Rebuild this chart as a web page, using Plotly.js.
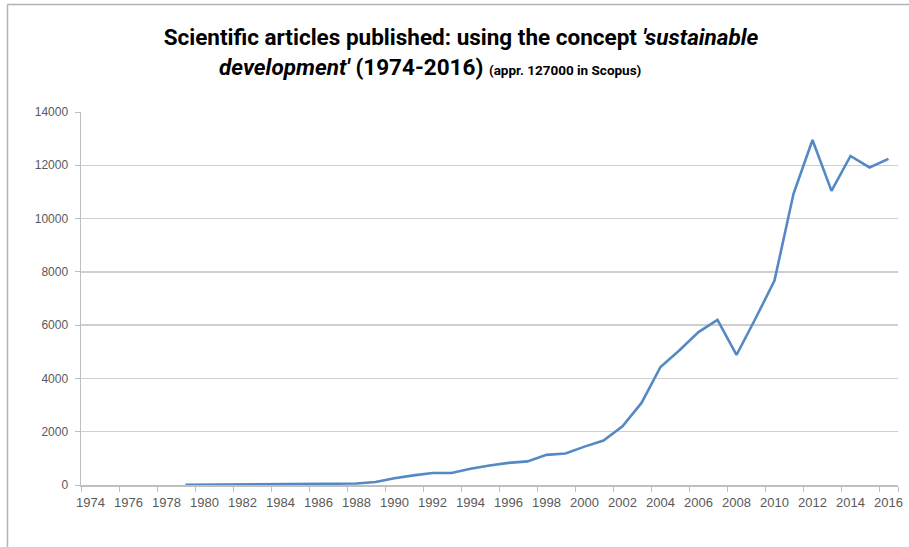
<!DOCTYPE html>
<html>
<head>
<meta charset="utf-8">
<script src="https://cdn.plot.ly/plotly-3.0.1.min.js"></script>
<style>
  html, body { margin: 0; padding: 0; background: #ffffff; }
  #chart { width: 909px; height: 547px; }
</style>
</head>
<body>
<div id="chart"></div>
<script>
// Years on the category axis
const years = [
  1974, 1975, 1976, 1977, 1978, 1979, 1980, 1981, 1982, 1983,
  1984, 1985, 1986, 1987, 1988, 1989, 1990, 1991, 1992, 1993,
  1994, 1995, 1996, 1997, 1998, 1999, 2000, 2001, 2002, 2003,
  2004, 2005, 2006, 2007, 2008, 2009, 2010, 2011, 2012, 2013,
  2014, 2015, 2016
];

// Articles per year (no records before 1979)
const articles = [
  null, null, null, null, null, 5, 8, 10, 12, 15,
  18, 25, 30, 35, 55, 110, 250, 360, 450, 450,
  610, 730, 830, 885, 1130, 1180, 1440, 1670, 2200, 3080,
  4430, 5060, 5740, 6200, 4880, 6250, 7670, 10930, 12950, 11040,
  12350, 11920, 12240
];

// Y axis ticks
const yTicks = [0, 2000, 4000, 6000, 8000, 10000, 12000, 14000];

const cats = years.map(String);
const labelYears = cats.filter((_, i) => i % 2 === 0);

const trace = {
  type: 'scatter',
  mode: 'lines',
  x: cats,
  y: articles,
  line: { color: '#5589c4', width: 2.6 },
  connectgaps: false,
  hoverinfo: 'x+y'
};

const tickFont = { family: 'Liberation Sans, Arial, sans-serif', size: 12, color: '#595959' };
const xTickFont = { family: 'Liberation Sans, Arial, sans-serif', size: 13, color: '#595959' };
const titleFont = { family: 'Roboto, sans-serif', size: 22.5, color: '#000000', weight: 'bold' };

const layout = {
  width: 909,
  height: 547,
  margin: { l: 81, r: 11, t: 112, b: 62 },
  paper_bgcolor: '#ffffff',
  plot_bgcolor: '#ffffff',
  showlegend: false,
  title: {
    text: "Scientific articles published: using the concept <i>'sustainable</i>",
    font: titleFont,
    xref: 'container',
    x: 461 / 909,
    xanchor: 'center',
    yref: 'container',
    y: 1 - 45 / 547,
    yanchor: 'bottom'
  },
  annotations: [
    {
      text: "<i>development'</i> (1974-2016) <span style=\"font-size:13.5px\">(appr. 127000 in Scopus)</span>",
      font: titleFont,
      xref: 'paper', yref: 'paper',
      x: (430 - 81) / 817, xanchor: 'center',
      y: (485 - 82) / 373, yanchor: 'bottom',
      showarrow: false
    }
  ],
  xaxis: {
    type: 'category',
    categoryorder: 'array',
    categoryarray: cats,
    range: [-0.5, cats.length - 0.5],
    tickmode: 'array',
    tickvals: labelYears,
    ticktext: labelYears,
    tickson: 'boundaries',
    tickangle: 0,
    ticks: 'outside',
    ticklen: 5,
    tickwidth: 1,
    tickcolor: '#bfbfbf',
    showline: true,
    linecolor: '#bfbfbf',
    linewidth: 1.5,
    showgrid: false,
    zeroline: false,
    tickfont: xTickFont,
    ticklabelstandoff: 5,
    fixedrange: true
  },
  yaxis: {
    range: [0, 14000],
    tickmode: 'array',
    tickvals: yTicks,
    ticktext: yTicks.map(String),
    ticks: 'outside',
    ticklen: 5,
    tickwidth: 1,
    tickcolor: '#bfbfbf',
    showline: true,
    linecolor: '#bfbfbf',
    linewidth: 1.5,
    showgrid: true,
    gridcolor: '#cfcfcf',
    gridwidth: 1.5,
    zeroline: false,
    tickfont: tickFont,
    ticklabelstandoff: 4,
    fixedrange: true
  },
  shapes: [
    // outer frame of the chart area (left and top edges)
    { type: 'line', xref: 'paper', yref: 'paper',
      x0: (7.5 - 81) / 817, x1: (7.5 - 81) / 817, y0: -0.3, y1: (485 - 4.5) / 373,
      line: { color: '#b3b3b3', width: 1.5 } },
    { type: 'line', xref: 'paper', yref: 'paper',
      x0: (7.5 - 81) / 817, x1: 1.1, y0: (485 - 4.5) / 373, y1: (485 - 4.5) / 373,
      line: { color: '#b3b3b3', width: 1.5 } }
  ]
};

Plotly.newPlot('chart', [trace], layout, { displayModeBar: false, staticPlot: true });
</script>
</body>
</html>
